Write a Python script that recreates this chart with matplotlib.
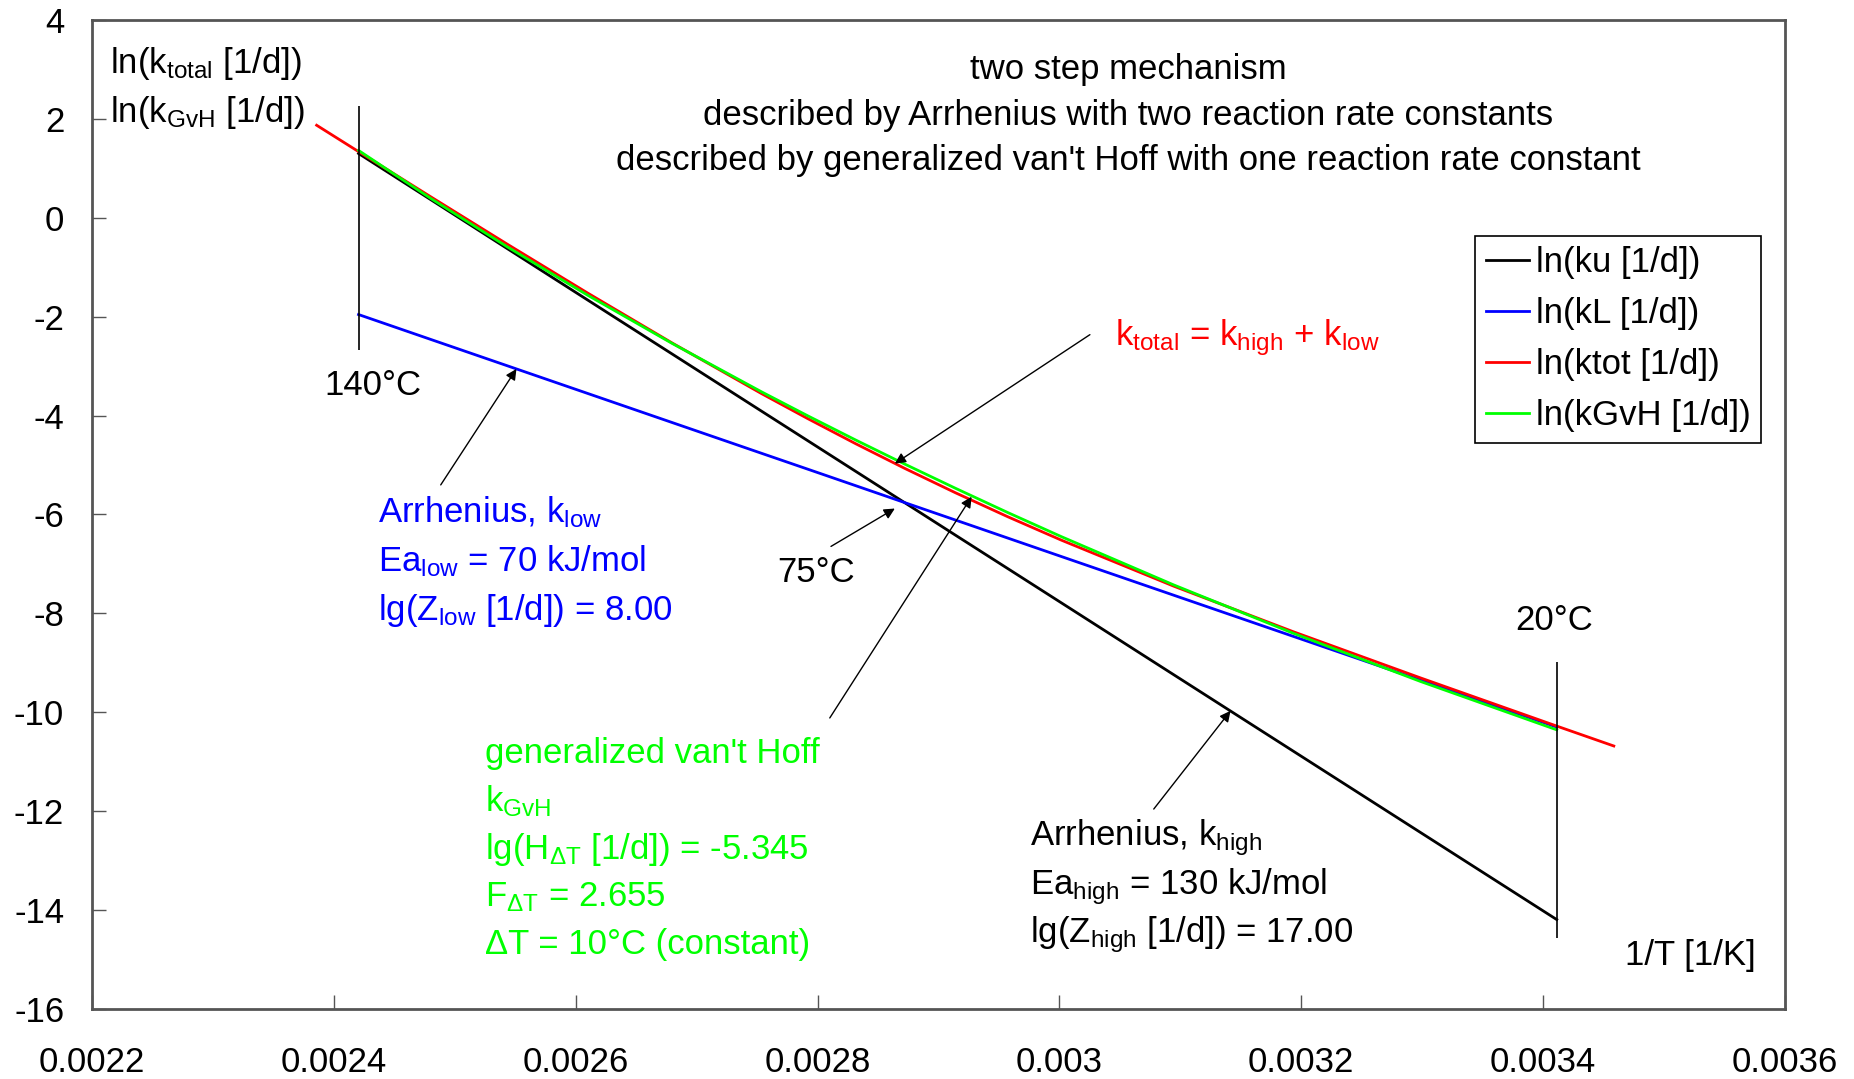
import matplotlib.pyplot as plt

# Arrhenius plot: two step mechanism vs. generalized van't Hoff
plt.rcParams['font.family'] = ['Liberation Sans', 'DejaVu Sans']
plt.rcParams['mathtext.fontset'] = 'custom'
plt.rcParams['mathtext.rm'] = 'Liberation Sans'
plt.rcParams['mathtext.it'] = 'Liberation Sans:italic'
plt.rcParams['mathtext.bf'] = 'Liberation Sans:bold'
plt.rcParams['axes.unicode_minus'] = False

# 1/T [1/K] for 140, 130, ..., 85, 80, 75, 70, 65, 60, ..., 20 degC
inv_T = [0.00242043, 0.00248047, 0.00254356, 0.00260994, 0.00267989, 0.00275368,
         0.00279213, 0.00283166, 0.00287232, 0.00291418, 0.00295727, 0.00300165,
         0.00309454, 0.00319336, 0.00329870, 0.00341122]
ln_ku = [1.300, 0.361, -0.626, -1.664, -2.757, -3.911,
         -4.512, -5.130, -5.766, -6.421, -7.094, -7.788,
         -9.241, -10.786, -12.433, -14.192]
ln_kL = [-1.957, -2.463, -2.994, -3.553, -4.142, -4.763,
         -5.086, -5.419, -5.762, -6.114, -6.477, -6.851,
         -7.633, -8.465, -9.351, -10.299]
ln_kGvH = [1.362, 0.386, -0.590, -1.567, -2.543, -3.520,
           -4.008, -4.496, -4.984, -5.472, -5.961, -6.449,
           -7.425, -8.402, -9.378, -10.355]

# total rate runs a bit wider: 146 ... 16 degC
inv_T_tot = [0.00238578, 0.00242043, 0.00248047, 0.00254356, 0.00260994, 0.00267989,
             0.00275368, 0.00279213, 0.00283166, 0.00287232, 0.00291418, 0.00295727,
             0.00300165, 0.00309454, 0.00319336, 0.00329870, 0.00341122, 0.00345841]
ln_ktot = [1.871, 1.338, 0.419, -0.536, -1.523, -2.534,
           -3.556, -4.065, -4.571, -5.071, -5.563, -6.046,
           -6.520, -7.450, -8.371, -9.306, -10.279, -10.682]

x_ticks = [0.0022, 0.0024, 0.0026, 0.0028, 0.0030, 0.0032, 0.0034, 0.0036]
x_tick_labels = ['0.0022', '0.0024', '0.0026', '0.0028', '0.003', '0.0032', '0.0034', '0.0036']
y_ticks = [-16, -14, -12, -10, -8, -6, -4, -2, 0, 2, 4]

FS = 25
AX_COLOR = '#555555'

fig = plt.figure(figsize=(18.54, 10.79), dpi=100)
ax = fig.add_axes([0.0496, 0.0649, 0.9132, 0.9166])

ax.plot(inv_T, ln_ku, color='#000000', lw=2, label='ln(ku [1/d])')
ax.plot(inv_T, ln_kL, color='#0000FF', lw=2, label='ln(kL [1/d])')
ax.plot(inv_T_tot, ln_ktot, color='#FF0000', lw=2, label='ln(ktot [1/d])')
ax.plot(inv_T, ln_kGvH, color='#00FF00', lw=2, label='ln(kGvH [1/d])')

# temperature markers at 140 and 20 degC
ax.vlines(inv_T[0], -2.68, 2.25, color='black', lw=1.2)
ax.vlines(inv_T[-1], -14.56, -8.99, color='black', lw=1.2)

ax.set_xlim(0.0022, 0.0036)
ax.set_ylim(-16, 4)
ax.set_xticks(x_ticks, x_tick_labels)
ax.set_yticks(y_ticks)
ax.tick_params(direction='in', length=10, width=1, color=AX_COLOR, labelsize=FS)
ax.tick_params(axis='x', pad=27)
ax.tick_params(axis='y', pad=20)
for s in ax.spines.values():
    s.set_color(AX_COLOR)
    s.set_linewidth(2)

leg = ax.legend(loc='upper right', bbox_to_anchor=(0.986, 0.782), fontsize=FS,
                fancybox=False, edgecolor='black', framealpha=1,
                handlelength=1.25, handletextpad=0.2, borderpad=0.3,
                labelspacing=0.52, borderaxespad=0)
leg.get_frame().set_linewidth(1.2)

# axis captions and heading
ax.text(0.0105, 0.946, r'ln(k$_{\mathrm{total}}$ [1/d])', transform=ax.transAxes,
        fontsize=FS, va='baseline')
ax.text(0.0105, 0.897, r'ln(k$_{\mathrm{GvH}}$ [1/d])', transform=ax.transAxes,
        fontsize=FS, va='baseline')
ax.text(0.9825, 0.044, '1/T [1/K]', transform=ax.transAxes, fontsize=FS,
        ha='right', va='baseline')
heading = ['two step mechanism',
           'described by Arrhenius with two reaction rate constants',
           "described by generalized van't Hoff with one reaction rate constant"]
for line, yf in zip(heading, [0.940, 0.894, 0.848]):
    ax.text(0.612, yf, line, transform=ax.transAxes, fontsize=FS, ha='center', va='baseline')

# temperature labels
ax.text(0.0024327, -3.58, '140°C', fontsize=FS, ha='center', va='baseline')
ax.text(0.0027984, -7.36, '75°C', fontsize=FS, ha='center', va='baseline')
ax.text(0.0034094, -8.34, '20°C', fontsize=FS, ha='center', va='baseline')

# parameter blocks
ax.text(0.0030457, -2.58, r'k$_{\mathrm{total}}$ = k$_{\mathrm{high}}$ + k$_{\mathrm{low}}$',
        fontsize=FS, color='#FF0000', va='baseline')

blue_lines = [r'Arrhenius, k$_{\mathrm{low}}$',
              r'Ea$_{\mathrm{low}}$ = 70 kJ/mol',
              r'lg(Z$_{\mathrm{low}}$ [1/d]) = 8.00']
for line, yv in zip(blue_lines, [-6.167, -7.148, -8.129]):
    ax.text(0.0024366, yv, line, fontsize=FS, color='#0000FF', va='baseline')

green_lines = ["generalized van't Hoff",
               r'k$_{\mathrm{GvH}}$',
               r'lg(H$_{\mathrm{ΔT}}$ [1/d]) = -5.345',
               r'F$_{\mathrm{ΔT}}$ = 2.655',
               'ΔT = 10°C (constant)']
for line, yv in zip(green_lines, [-11.024, -12.005, -12.96, -13.92, -14.88]):
    ax.text(0.0025246, yv, line, fontsize=FS, color='#00FF00', va='baseline')

black_lines = [r'Arrhenius, k$_{\mathrm{high}}$',
               r'Ea$_{\mathrm{high}}$ = 130 kJ/mol',
               r'lg(Z$_{\mathrm{high}}$ [1/d]) = 17.00']
for line, yv in zip(black_lines, [-12.70, -13.68, -14.66]):
    ax.text(0.0029753, yv, line, fontsize=FS, color='black', va='baseline')

# pointer arrows (tail -> head)
arrows = [((0.0030252, -2.364), (0.0028639, -4.971)),
          ((0.0024884, -5.402), (0.0025510, -3.057)),
          ((0.0028111, -6.646), (0.0028639, -5.880)),
          ((0.0028101, -10.115), (0.0029274, -5.641)),
          ((0.0030780, -11.957), (0.0031415, -9.97))]
for tail, head in arrows:
    ax.annotate('', xy=head, xytext=tail,
                arrowprops=dict(arrowstyle='-|>', color='black', lw=1,
                                mutation_scale=16, shrinkA=0, shrinkB=0))

fig.savefig('out.png', dpi=100)
